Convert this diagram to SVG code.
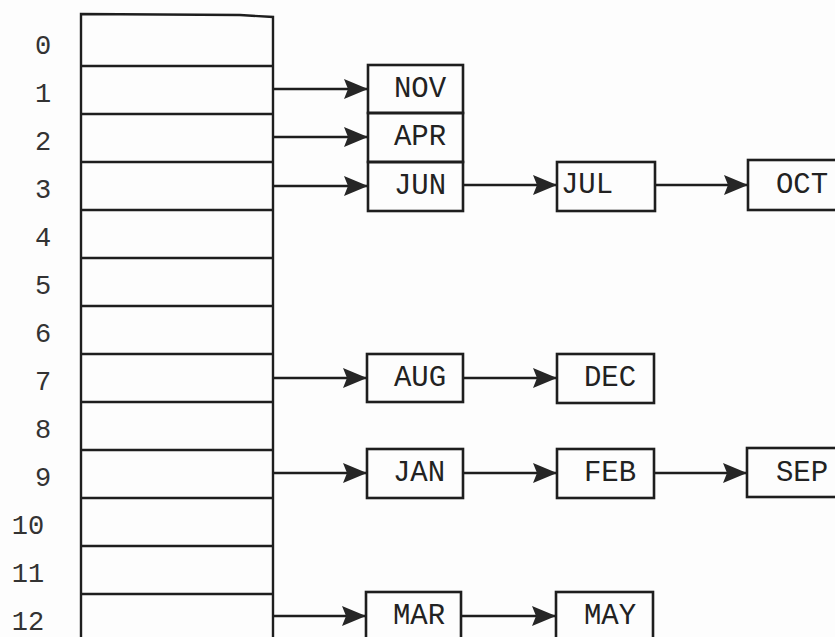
<svg xmlns="http://www.w3.org/2000/svg" width="835" height="637" viewBox="0 0 835 637">
<style>
.ln{fill:none;stroke:#1e1e1e;stroke-width:2.4}
.box{fill:none;stroke:#1e1e1e;stroke-width:2.6}
.idx{font-family:"Liberation Mono","Courier New",monospace;font-size:27px;fill:#333;text-anchor:middle}
.lbl{font-family:"Liberation Mono","Courier New",monospace;font-size:29px;fill:#222;text-anchor:middle}
.con{fill:none;stroke:#1e1e1e;stroke-width:2.4;marker-end:url(#ah)}
</style>
<defs>
<marker id="ah" viewBox="0 0 24 20" refX="24" refY="10" markerWidth="24" markerHeight="20" markerUnits="userSpaceOnUse" orient="auto">
<path d="M0,0 L24,10 L0,20 L4,10 Z" fill="#262626"/>
</marker>
</defs>
<rect width="835" height="637" fill="#fdfdfd"/>
<g id="table">
<path class="ln" d="M81,640 L81,14 L240,15 L273,17 L273,640"/>
<path class="ln" d="M81,66H273 M81,114H273 M81,162H273 M81,210H273 M81,258H273 M81,306H273 M81,354H273 M81,402H273 M81,450H273 M81,498H273 M81,546H273 M81,594H273"/>
<text class="idx" x="43" y="54">0</text>
<text class="idx" x="43" y="102">1</text>
<text class="idx" x="43" y="150">2</text>
<text class="idx" x="43" y="198">3</text>
<text class="idx" x="43" y="246">4</text>
<text class="idx" x="43" y="294">5</text>
<text class="idx" x="43" y="342">6</text>
<text class="idx" x="43" y="390">7</text>
<text class="idx" x="43" y="438">8</text>
<text class="idx" x="43" y="486">9</text>
<text class="idx" x="28" y="534">10</text>
<text class="idx" x="28" y="582">11</text>
<text class="idx" x="28" y="630">12</text>
</g>
<g id="connectors">
<path class="con" d="M273,89H368"/>
<path class="con" d="M273,137H368"/>
<path class="con" d="M273,186H368"/>
<path class="con" d="M463,185H557"/>
<path class="con" d="M655,185H748"/>
<path class="con" d="M273,378H367"/>
<path class="con" d="M463,378H557"/>
<path class="con" d="M273,473H367"/>
<path class="con" d="M463,473H557"/>
<path class="con" d="M654,473H747"/>
<path class="con" d="M273,616H366"/>
<path class="con" d="M461,616H556"/>
</g>
<g id="nov"><rect class="box" x="368" y="65" width="95" height="48"/><text class="lbl" x="420" y="97">NOV</text></g>
<g id="apr"><rect class="box" x="368" y="113" width="95" height="49"/><text class="lbl" x="420" y="145">APR</text></g>
<g id="jun"><rect class="box" x="368" y="162" width="95" height="49"/><text class="lbl" x="420" y="194">JUN</text></g>
<g id="jul"><rect class="box" x="557" y="162" width="98" height="49"/><text class="lbl" x="587" y="193">JUL</text></g>
<g id="oct"><rect class="box" x="748" y="160" width="110" height="50"/><text class="lbl" x="802" y="193">OCT</text></g>
<g id="aug"><rect class="box" x="367" y="354" width="96" height="48"/><text class="lbl" x="420" y="386">AUG</text></g>
<g id="dec"><rect class="box" x="557" y="354" width="97" height="49"/><text class="lbl" x="610" y="386">DEC</text></g>
<g id="jan"><rect class="box" x="367" y="449" width="96" height="49"/><text class="lbl" x="419" y="481">JAN</text></g>
<g id="feb"><rect class="box" x="557" y="449" width="97" height="49"/><text class="lbl" x="610" y="481">FEB</text></g>
<g id="sep"><rect class="box" x="747" y="448" width="110" height="49"/><text class="lbl" x="802" y="481">SEP</text></g>
<g id="mar"><rect class="box" x="366" y="592" width="95" height="60"/><text class="lbl" x="419" y="624">MAR</text></g>
<g id="may"><rect class="box" x="556" y="592" width="97" height="60"/><text class="lbl" x="610" y="624">MAY</text></g>
</svg>
